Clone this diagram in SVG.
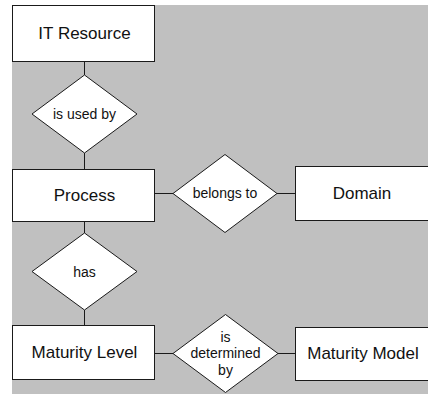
<svg xmlns="http://www.w3.org/2000/svg" width="428" height="394" viewBox="0 0 428 394">
<style>
.bg{fill:#c0c0c0}
.ent{fill:#fff;stroke:#1a1a1a;stroke-width:1}
.rel{fill:#fff;stroke:#1a1a1a;stroke-width:1}
.con line{stroke:#1a1a1a;stroke-width:1}
.t1{font-family:"Liberation Sans",Arial,sans-serif;font-size:17px;fill:#111;text-anchor:middle}
.t2{font-family:"Liberation Sans",Arial,sans-serif;font-size:14px;fill:#111;text-anchor:middle}
</style>
<rect class="bg" x="12" y="5" width="416" height="389"/>
<g class="con">
<line x1="84.5" y1="61" x2="84.5" y2="75"/>
<line x1="84.5" y1="153" x2="84.5" y2="169"/>
<line x1="84.5" y1="221" x2="84.5" y2="233"/>
<line x1="84.5" y1="310" x2="84.5" y2="325"/>
<line x1="155" y1="193.5" x2="173" y2="193.5"/>
<line x1="277" y1="193.5" x2="295" y2="193.5"/>
<line x1="155" y1="353.5" x2="173" y2="353.5"/>
<line x1="278" y1="353.5" x2="295" y2="353.5"/>
</g>
<g id="it-resource">
<rect class="ent" x="12.5" y="5.5" width="142" height="56"/>
<text class="t1" x="84.5" y="38.5">IT Resource</text>
</g>
<g id="is-used-by">
<polygon class="rel" points="84.5,75 137,114 84.5,153 32,114"/>
<text class="t2" x="84.5" y="118.5">is used by</text>
</g>
<g id="process">
<rect class="ent" x="12.5" y="169.5" width="142" height="52"/>
<text class="t1" x="84.5" y="200.5">Process</text>
</g>
<g id="belongs-to">
<polygon class="rel" points="225,154.5 277,193.5 225,232.5 173,193.5"/>
<text class="t2" x="225" y="197.5">belongs to</text>
</g>
<g id="domain">
<rect class="ent" x="295.5" y="166.5" width="140" height="54"/>
<text class="t1" x="362" y="199">Domain</text>
</g>
<g id="has">
<polygon class="rel" points="84.5,233 137,271.5 84.5,310 32,271.5"/>
<text class="t2" x="84.5" y="276.5">has</text>
</g>
<g id="maturity-level">
<rect class="ent" x="12.5" y="325.5" width="142" height="54"/>
<text class="t1" x="84.5" y="357.5">Maturity Level</text>
</g>
<g id="is-determined-by">
<polygon class="rel" points="225.5,314.5 278,353.5 225.5,392.5 173,353.5"/>
<text class="t2" x="225.5" y="341.5">is</text>
<text class="t2" x="225.5" y="358">determined</text>
<text class="t2" x="225.5" y="374.5">by</text>
</g>
<g id="maturity-model">
<rect class="ent" x="295.5" y="327.5" width="140" height="53"/>
<text class="t1" x="363" y="358.5">Maturity Model</text>
</g>
</svg>
